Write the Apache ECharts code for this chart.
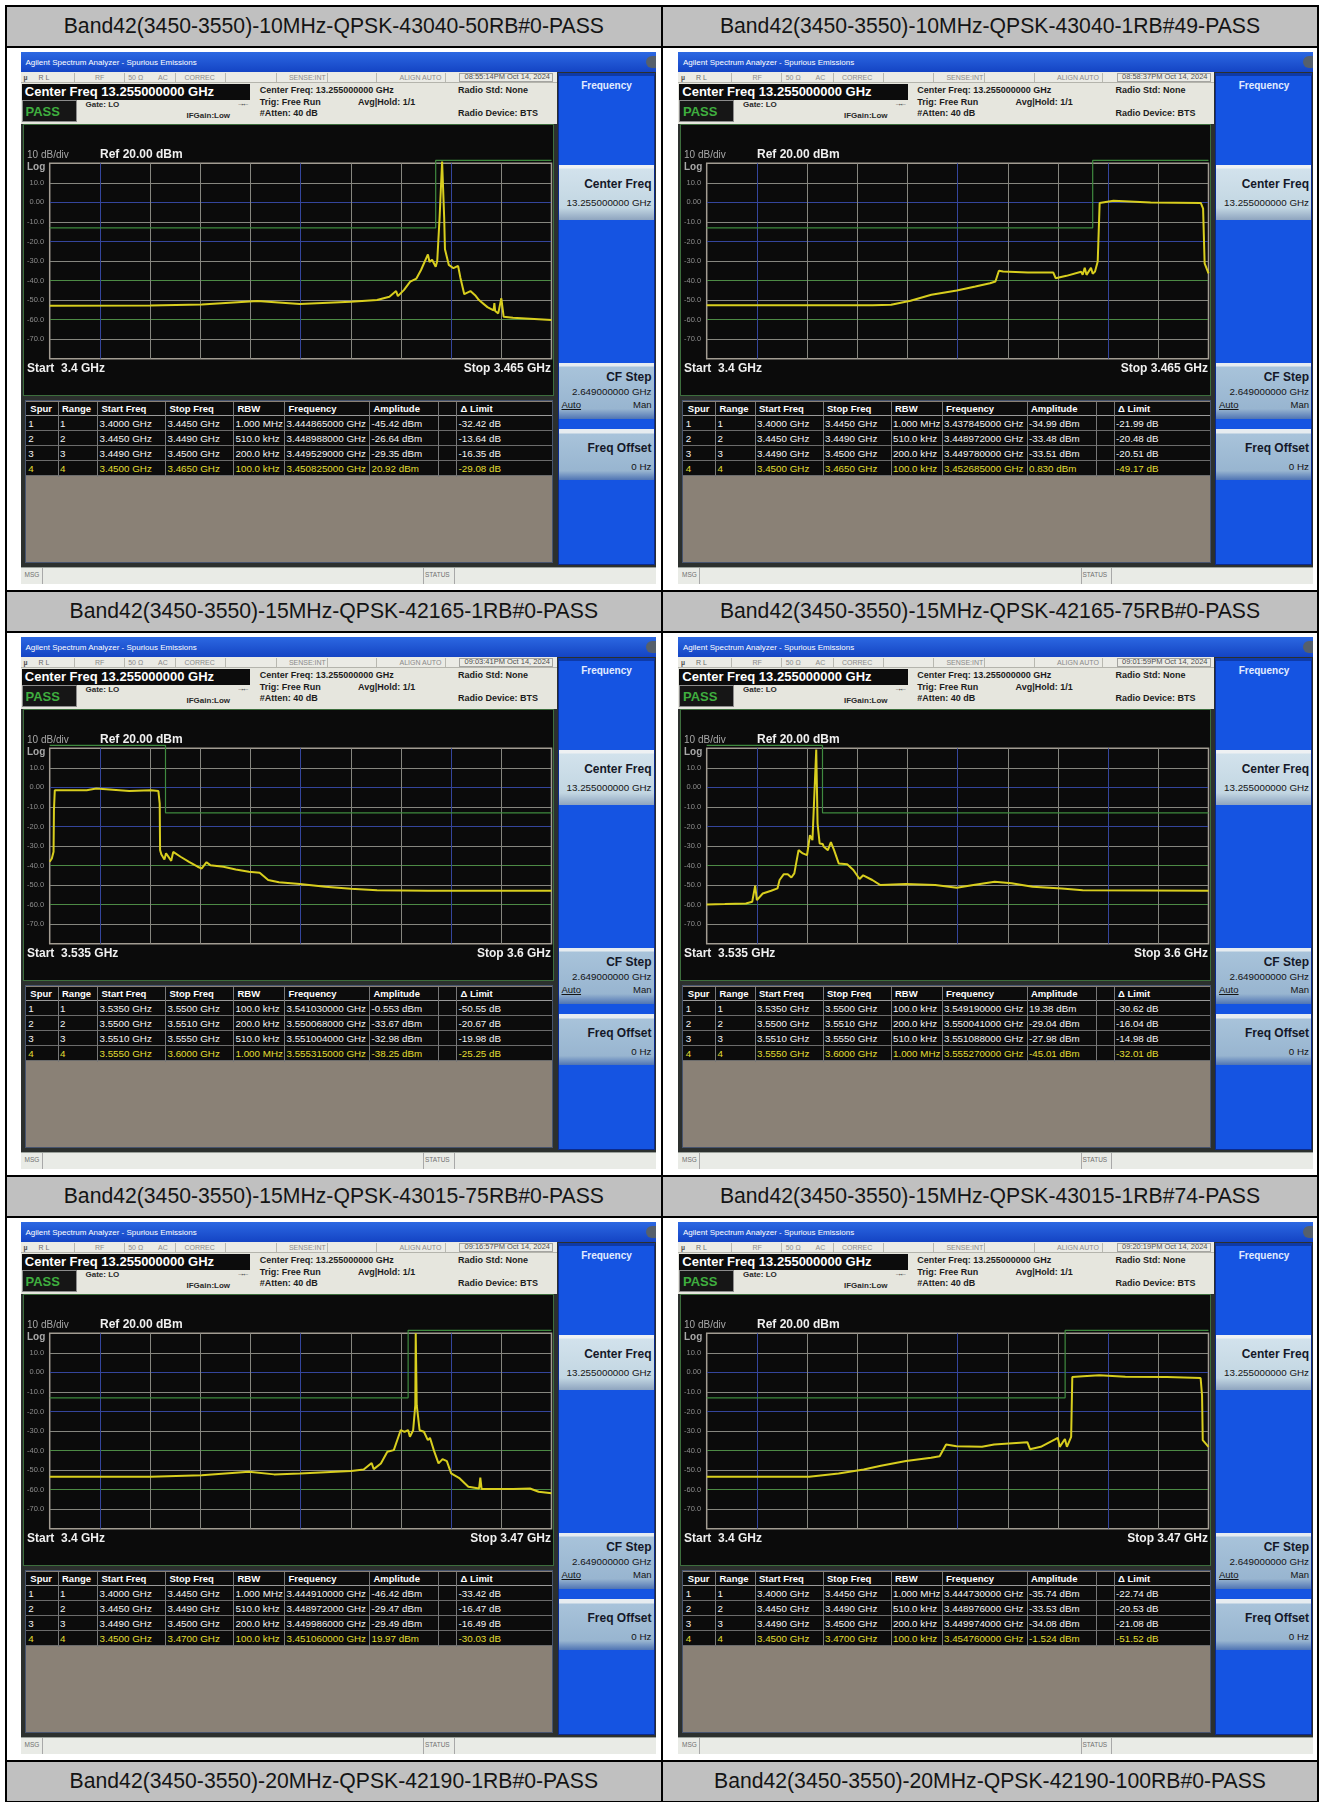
<!DOCTYPE html>
<html>
<head>
<meta charset="utf-8">
<title>Band42 Spurious Emissions</title>
<script src="https://cdn.jsdelivr.net/npm/echarts@6/dist/echarts.min.js"></script>
<style>
  body { margin: 0; width: 1322px; height: 1802px; position: relative; overflow: hidden; background: #fff; font-family: "Liberation Sans", Arial, sans-serif; }
  .a { position: absolute; }
  .t { position: absolute; white-space: nowrap; }
  .shot { position: absolute; width: 635px; height: 532px; background: #2c302e; overflow: hidden; border: 0; }
</style>
</head>
<body>
<div id="page"></div>
<script type="text/javascript">
    // cell titles, row by row (left, right)
    var titles = [
        'Band42(3450-3550)-10MHz-QPSK-43040-50RB#0-PASS',
        'Band42(3450-3550)-10MHz-QPSK-43040-1RB#49-PASS',
        'Band42(3450-3550)-15MHz-QPSK-42165-1RB#0-PASS',
        'Band42(3450-3550)-15MHz-QPSK-42165-75RB#0-PASS',
        'Band42(3450-3550)-15MHz-QPSK-43015-75RB#0-PASS',
        'Band42(3450-3550)-15MHz-QPSK-43015-1RB#74-PASS',
        'Band42(3450-3550)-20MHz-QPSK-42190-1RB#0-PASS',
        'Band42(3450-3550)-20MHz-QPSK-42190-100RB#0-PASS'
    ];
    var timeStamps = ['08:55:14PM Oct 14, 2024', '08:58:37PM Oct 14, 2024', '09:03:41PM Oct 14, 2024',
        '09:01:59PM Oct 14, 2024', '09:16:57PM Oct 14, 2024', '09:20:19PM Oct 14, 2024'];
    var spanStart = [3.4, 3.4, 3.535, 3.535, 3.4, 3.4];     // GHz
    var spanStop = [3.465, 3.465, 3.6, 3.6, 3.47, 3.47];

    // range tables
    var lowRangeStart = ['3.4000', '3.4450', '3.4490', '3.4500'];
    var lowRangeStop65 = ['3.4450', '3.4490', '3.4500', '3.4650'];
    var lowRangeStop70 = ['3.4450', '3.4490', '3.4500', '3.4700'];
    var lowRbw = ['1.000 MHz', '510.0 kHz', '200.0 kHz', '100.0 kHz'];
    var highRangeStart = ['3.5350', '3.5500', '3.5510', '3.5550'];
    var highRangeStop = ['3.5500', '3.5510', '3.5550', '3.6000'];
    var highRbw = ['100.0 kHz', '200.0 kHz', '510.0 kHz', '1.000 MHz'];

    // spur results per screenshot
    var p1SpurFreq = ['3.444865000', '3.448988000', '3.449529000', '3.450825000'];
    var p1SpurAmp = ['-45.42', '-26.64', '-29.35', '20.92'];
    var p1SpurDelta = ['-32.42', '-13.64', '-16.35', '-29.08'];
    var p2SpurFreq = ['3.437845000', '3.448972000', '3.449780000', '3.452685000'];
    var p2SpurAmp = ['-34.99', '-33.48', '-33.51', '0.830'];
    var p2SpurDelta = ['-21.99', '-20.48', '-20.51', '-49.17'];
    var p3SpurFreq = ['3.541030000', '3.550068000', '3.551004000', '3.555315000'];
    var p3SpurAmp = ['-0.553', '-33.67', '-32.98', '-38.25'];
    var p3SpurDelta = ['-50.55', '-20.67', '-19.98', '-25.25'];
    var p4SpurFreq = ['3.549190000', '3.550041000', '3.551088000', '3.555270000'];
    var p4SpurAmp = ['19.38', '-29.04', '-27.98', '-45.01'];
    var p4SpurDelta = ['-30.62', '-16.04', '-14.98', '-32.01'];
    var p5SpurFreq = ['3.444910000', '3.448972000', '3.449986000', '3.451060000'];
    var p5SpurAmp = ['-46.42', '-29.47', '-29.49', '19.97'];
    var p5SpurDelta = ['-33.42', '-16.47', '-16.49', '-30.03'];
    var p6SpurFreq = ['3.444730000', '3.448976000', '3.449974000', '3.454760000'];
    var p6SpurAmp = ['-35.74', '-33.53', '-34.08', '-1.524'];
    var p6SpurDelta = ['-22.74', '-20.53', '-21.08', '-51.52'];

    // traces [GHz, dBm]
    var p1Trace = [[3.4000,-52.9],[3.4130,-52.8],[3.4197,-52.2],[3.4269,-50.5],[3.4324,-52.0],[3.4390,-50.8],[3.4424,-50.0],[3.4440,-48.3],[3.44487,-45.4],[3.4451,-48.0],[3.4459,-44.8],[3.4467,-40.6],[3.4475,-39.0],[3.4481,-34.6],[3.44899,-26.6],[3.4492,-30.5],[3.44953,-29.4],[3.4500,-32.9],[3.4502,-30.0],[3.4505,-8.2],[3.45083,20.9],[3.4511,-8.0],[3.4512,-24.0],[3.4517,-32.0],[3.4523,-33.7],[3.4529,-32.5],[3.4532,-38.6],[3.4537,-47.0],[3.4545,-45.4],[3.4551,-47.5],[3.4556,-50.0],[3.4567,-53.6],[3.4575,-55.3],[3.4576,-51.5],[3.4577,-55.6],[3.4581,-56.8],[3.4585,-49.1],[3.4588,-58.5],[3.4600,-59.0],[3.4650,-60.2]];
    var p2Trace = [[3.4000,-52.7],[3.4215,-52.7],[3.4239,-52.4],[3.4264,-50.3],[3.4291,-47.3],[3.4324,-45.1],[3.4348,-43.1],[3.4367,-41.4],[3.4374,-40.5],[3.43785,-35.0],[3.4384,-35.4],[3.4416,-35.9],[3.4449,-35.9],[3.4452,-38.8],[3.4466,-37.6],[3.4485,-35.5],[3.4487,-37.0],[3.44897,-33.5],[3.4492,-37.1],[3.44978,-33.5],[3.4500,-36.5],[3.4503,-35.4],[3.45065,-30.3],[3.4509,-0.3],[3.45269,0.8],[3.4575,0.0],[3.4640,-0.3],[3.4643,-3.2],[3.4645,-31.2],[3.4650,-36.3]];
    var p3Trace = [[3.5350,-38.1],[3.53528,-36.4],[3.5355,-33.0],[3.53555,-11.7],[3.53566,-1.5],[3.5398,-1.5],[3.54103,-0.6],[3.5453,-1.9],[3.5481,-1.5],[3.54908,-1.9],[3.54925,-8.3],[3.5493,-32.1],[3.54947,-34.4],[3.54986,-36.9],[3.55007,-33.7],[3.55074,-37.6],[3.5510,-33.0],[3.55195,-35.5],[3.55305,-38.1],[3.55416,-40.6],[3.5547,-41.5],[3.55532,-38.3],[3.5558,-39.8],[3.5575,-40.6],[3.5591,-42.0],[3.5608,-43.2],[3.5622,-43.7],[3.5633,-47.4],[3.5647,-48.6],[3.5674,-49.5],[3.5707,-50.9],[3.5740,-51.9],[3.5774,-52.6],[3.5840,-52.9],[3.6000,-52.9]];
    var p4Trace = [[3.5350,-59.9],[3.53735,-59.7],[3.54008,-59.4],[3.5409,-58.5],[3.54128,-50.3],[3.5415,-57.7],[3.54226,-54.3],[3.54335,-52.9],[3.54417,-51.7],[3.54444,-47.4],[3.54499,-44.4],[3.5455,-44.4],[3.54597,-46.1],[3.54635,-44.0],[3.5469,-32.1],[3.54745,-33.8],[3.5480,-34.7],[3.54837,-24.5],[3.5487,-27.0],[3.54919,19.4],[3.54936,-18.5],[3.54963,-28.7],[3.55004,-29.0],[3.55017,-30.4],[3.5507,-32.1],[3.55109,-28.0],[3.5515,-32.1],[3.5521,-38.9],[3.5532,-39.3],[3.5540,-42.3],[3.5548,-46.9],[3.55527,-45.0],[3.55645,-47.4],[3.5575,-50.0],[3.5608,-49.5],[3.5646,-50.0],[3.5674,-51.4],[3.56955,-50.0],[3.5723,-48.3],[3.5745,-49.1],[3.5772,-50.9],[3.5810,-51.7],[3.5837,-52.6],[3.6000,-52.9]];
    var p5Trace = [[3.4000,-53.4],[3.4070,-53.4],[3.4141,-53.4],[3.4212,-52.6],[3.4278,-50.9],[3.4313,-52.2],[3.4349,-51.7],[3.44205,-50.5],[3.4438,-49.7],[3.44491,-46.4],[3.4452,-49.5],[3.4462,-46.6],[3.4471,-40.6],[3.4480,-39.8],[3.44897,-29.5],[3.4495,-30.5],[3.44999,-29.5],[3.45025,-33.0],[3.4507,-29.6],[3.4510,-16.8],[3.45106,20.0],[3.4512,-16.8],[3.4516,-29.6],[3.4522,-30.4],[3.45275,-34.7],[3.45305,-33.5],[3.45365,-40.6],[3.45424,-46.6],[3.4548,-44.4],[3.4554,-45.4],[3.4560,-51.7],[3.4572,-54.3],[3.4584,-58.5],[3.4599,-59.4],[3.46007,-53.9],[3.46025,-59.7],[3.46465,-59.7],[3.4670,-59.4],[3.4682,-61.1],[3.4700,-61.9]];
    var p6Trace = [[3.4000,-53.4],[3.4143,-53.4],[3.4184,-51.7],[3.4219,-49.7],[3.4243,-47.8],[3.4278,-45.4],[3.4313,-43.7],[3.4325,-42.9],[3.4334,-36.9],[3.43485,-37.8],[3.4384,-38.1],[3.4401,-36.9],[3.44473,-35.7],[3.4451,-39.3],[3.4466,-38.1],[3.44898,-33.5],[3.44925,-38.1],[3.44997,-34.1],[3.45025,-38.1],[3.45084,-33.0],[3.4510,-2.4],[3.4525,-2.0],[3.45476,-1.5],[3.4584,-2.2],[3.4642,-2.4],[3.4689,-2.9],[3.4691,-11.7],[3.4692,-34.7],[3.4700,-38.1]];

    var panels = [
        { trace: p1Trace, rStart: lowRangeStart, rStop: lowRangeStop65, rbw: lowRbw, freq: p1SpurFreq, amp: p1SpurAmp, delta: p1SpurDelta },
        { trace: p2Trace, rStart: lowRangeStart, rStop: lowRangeStop65, rbw: lowRbw, freq: p2SpurFreq, amp: p2SpurAmp, delta: p2SpurDelta },
        { trace: p3Trace, rStart: highRangeStart, rStop: highRangeStop, rbw: highRbw, freq: p3SpurFreq, amp: p3SpurAmp, delta: p3SpurDelta },
        { trace: p4Trace, rStart: highRangeStart, rStop: highRangeStop, rbw: highRbw, freq: p4SpurFreq, amp: p4SpurAmp, delta: p4SpurDelta },
        { trace: p5Trace, rStart: lowRangeStart, rStop: lowRangeStop70, rbw: lowRbw, freq: p5SpurFreq, amp: p5SpurAmp, delta: p5SpurDelta },
        { trace: p6Trace, rStart: lowRangeStart, rStop: lowRangeStop70, rbw: lowRbw, freq: p6SpurFreq, amp: p6SpurAmp, delta: p6SpurDelta }
    ];

    // small html helpers
    function tx(x, yc, size, weight, color, text, align, extra) {
        var h = Math.round(size * 1.3);
        var pos;
        if (align === 'right') pos = 'left:' + (x - 400) + 'px;width:400px;text-align:right;';
        else if (align === 'center') pos = 'left:' + (x - 400) + 'px;width:800px;text-align:center;';
        else pos = 'left:' + x + 'px;';
        return '<div class="t" style="' + pos + 'top:' + (yc - h / 2) + 'px;height:' + h + 'px;line-height:' + h +
            'px;font-size:' + size + 'px;font-weight:' + weight + ';color:' + color + ';' + (extra || '') + '">' + text + '</div>';
    }
    function box(x, y, w, h, css) {
        return '<div class="a" style="left:' + x + 'px;top:' + y + 'px;width:' + w + 'px;height:' + h +
            'px;box-sizing:border-box;' + css + '"></div>';
    }

    var colStarts = [5.3, 37, 76.5, 144.5, 212.5, 263.5, 348.5, 417.5, 435.5];
    var headNames = ['Spur', 'Range', 'Start Freq', 'Stop Freq', 'RBW', 'Frequency', 'Amplitude', '', '&Delta; Limit'];

    function shotHtml(p, i) {
        var s = '';
        // window title bar
        s += box(0, 0, 635, 20, 'background:linear-gradient(#2c68e2,#1444c4);');
        s += tx(5, 10.5, 8, 'normal', '#ffffff', 'Agilent Spectrum Analyzer - Spurious Emissions');
        s += box(625, 4, 10, 12, 'background:#56606c;border-radius:6px 0 0 6px;');
        // status row
        s += box(0, 20, 536, 10.5, 'background:#ebebe5;border-bottom:1px solid #b4b4ac;');
        [53, 103.4, 154.7, 204.7, 255, 306.4, 355.5, 424].forEach(function (x) {
            s += box(x, 20.5, 1, 9.5, 'background:#b8b8b0;');
        });
        s += box(438.8, 21, 94, 9, 'border:1px solid #a4a4a0;');
        s += tx(3, 25, 7, 'bold', '#505050', '&micro;');
        s += tx(18, 25, 7, 'normal', '#6a6a6a', 'R L');
        s += tx(74.4, 25, 7, 'normal', '#8a8a8a', 'RF');
        s += tx(107.7, 25, 7, 'normal', '#8a8a8a', '50 &Omega;');
        s += tx(137.6, 25, 7, 'normal', '#8a8a8a', 'AC');
        s += tx(164, 25, 7, 'normal', '#8a8a8a', 'CORREC');
        s += tx(268.4, 25, 7, 'normal', '#8a8a8a', 'SENSE:INT');
        s += tx(379, 25, 7, 'normal', '#8a8a8a', 'ALIGN AUTO');
        s += tx(444, 25, 7.5, 'normal', '#505050', timeStamps[i]);
        // measurement header
        s += box(0, 30.5, 536, 41.5, 'background:#e6e6de;');
        s += box(1, 31.5, 228.5, 16, 'background:#0c0c0c;');
        s += tx(4.3, 39.6, 13, 'bold', '#ffffff', 'Center Freq 13.255000000 GHz');
        s += box(1, 48, 55, 22, 'background:#161616;border:1px solid #8c8c8c;');
        s += tx(5, 59, 13, 'bold', '#3fae3f', 'PASS');
        s += tx(65, 53, 8, 'bold', '#2a2a2a', 'Gate: LO');
        s += tx(166, 64, 8, 'bold', '#2a2a2a', 'IFGain:Low');
        s += tx(216, 52, 8, 'bold', '#2a2a2a', '&rarr;&larr;', null, 'letter-spacing:-3px;');
        s += tx(239.3, 38, 9, 'bold', '#1c1c1c', 'Center Freq: 13.255000000 GHz');
        s += tx(437.5, 38, 9, 'bold', '#1c1c1c', 'Radio Std: None');
        s += tx(239.3, 49.7, 9, 'bold', '#1c1c1c', 'Trig: Free Run');
        s += tx(337.6, 49.7, 9, 'bold', '#1c1c1c', 'Avg|Hold: 1/1');
        s += tx(239.3, 61.3, 9, 'bold', '#1c1c1c', '#Atten: 40 dB');
        s += tx(437.5, 61.3, 9, 'bold', '#1c1c1c', 'Radio Device: BTS');
        // soft key panel
        s += box(537, 20.5, 97, 492, 'background:#1554e2;border:1px solid #0b2a8e;border-top:3px solid #0e3aa8;');
        s += tx(586, 33.5, 10, 'bold', '#e2ecff', 'Frequency', 'center');
        s += box(538, 112.5, 95, 55, 'background:linear-gradient(#eef1f3 0,#eef1f3 3px,#d2e2ec 4px,#c2d6e2 78%,#8ea4bf 100%);');
        s += tx(631, 132, 12, 'bold', '#141828', 'Center Freq', 'right');
        s += tx(631, 150.7, 9.8, 'normal', '#141414', '13.255000000 GHz', 'right');
        s += box(538, 310.5, 95, 56, 'background:linear-gradient(#e6ecf0 0,#e6ecf0 3px,#a8c3da 4px,#98b5d0 82%,#4f74b4 100%);');
        s += tx(631, 325.3, 12, 'bold', '#141828', 'CF Step', 'right');
        s += tx(631, 339.7, 9.8, 'normal', '#141414', '2.649000000 GHz', 'right');
        s += tx(541, 353, 9.5, 'normal', '#141414', 'Auto', null, 'text-decoration:underline;');
        s += tx(631, 353, 9.5, 'normal', '#141414', 'Man', 'right');
        s += box(538, 377, 95, 51, 'background:linear-gradient(#e6ecf0 0,#e6ecf0 4px,#a8c3da 5px,#98b5d0 82%,#4f74b4 100%);');
        s += tx(631, 396.3, 12, 'bold', '#141828', 'Freq Offset', 'right');
        s += tx(631, 414, 9.8, 'normal', '#141414', '0 Hz', 'right');
        // plot window
        s += box(2, 72, 531, 272, 'background:#0b0b0b;border:1px solid #3d6e3d;');
        s += '<div id="plot' + i + '" class="a" style="left:3px;top:73px;width:529px;height:270px;"></div>';
        // spur table
        s += box(4.3, 348, 528.7, 163, 'background:#8a8176;border:1px solid #47546e;');
        s += box(5.3, 349.5, 526.7, 14.2, 'background:#0c0c0c;border-bottom:1px solid #9a9a9a;');
        for (var k = 0; k < 4; k++) {
            s += box(5.3, 363.7 + 15.2 * k, 526.7, 15.2, 'background:#0c0c0c;border-bottom:1px solid #6c6c6c;');
        }
        colStarts.slice(1).forEach(function (c) {
            s += box(c, 349.5, 1, 75, 'background:#777777;');
        });
        headNames.forEach(function (name, c) {
            if (name) s += tx(colStarts[c] + 4.5, 356.6, 9.5, 'bold', '#ffffff', name);
        });
        for (var r = 0; r < 4; r++) {
            var yc = 371.3 + 15.2 * r;
            var col = r === 3 ? '#e2de34' : '#f4f4f4';
            var cells = [String(r + 1), String(r + 1), p.rStart[r] + ' GHz', p.rStop[r] + ' GHz', p.rbw[r],
                p.freq[r] + ' GHz', p.amp[r] + ' dBm', '', p.delta[r] + ' dB'];
            cells.forEach(function (v, c) {
                if (v) s += tx(colStarts[c] + 2.5, yc, 9.8, 'normal', col, v);
            });
        }
        // message bar
        s += box(0, 514.5, 635, 17.5, 'background:#e9ebe6;border-top:1px solid #9aa09a;');
        s += box(21, 515.5, 1, 16, 'background:#a8a8a8;');
        s += box(402.5, 515.5, 1, 16, 'background:#a8a8a8;');
        s += box(433, 515.5, 1, 16, 'background:#a8a8a8;');
        s += tx(4, 523, 6.5, 'normal', '#707070', 'MSG');
        s += tx(404.5, 523, 6.5, 'normal', '#707070', 'STATUS');
        return s;
    }

    // page grid
    var html = '';
    var pitch = 585;
    for (var row = 0; row < 4; row++) {
        var rowTop = 4.5 + pitch * row;
        html += box(4.5, rowTop, 1314.5, 2, 'background:#000;');
        html += box(6.5, rowTop + 2, 654.5, 39.5, 'background:#c0c0c0;');
        html += box(663, rowTop + 2, 654, 39.5, 'background:#c0c0c0;');
        html += tx(333.8, rowTop + 21.8, 21.2, 'normal', '#141414', titles[row * 2], 'center');
        html += tx(990, rowTop + 21.8, 21.2, 'normal', '#141414', titles[row * 2 + 1], 'center');
        html += box(4.5, rowTop + 41.5, 1314.5, 2, 'background:#000;');
    }
    html += box(4.5, 4.5, 2, 1800, 'background:#000;');
    html += box(661, 4.5, 2, 1800, 'background:#000;');
    html += box(1317, 4.5, 2, 1800, 'background:#000;');
    var shotX = [20.5, 678];
    panels.forEach(function (p, i) {
        var x = shotX[i % 2], y = 52 + pitch * Math.floor(i / 2);
        html += '<div class="shot" style="left:' + x + 'px;top:' + y + 'px;">' + shotHtml(p, i) + '</div>';
    });
    document.getElementById('page').innerHTML = html;

    // graticule colours (border, gray, blue, green)
    var gBorder = '#a29c92', gGray = '#86867f', gBlue = '#34459c', gGreen = '#4d8a45';
    var xSplitColors = [gBorder, gBlue, gGray, gGray, gGray, gBlue, gGray, gGray, gBlue, gGray, gBorder];
    var ySplitColors = [gBorder, gGray, gGreen, gGray, gGreen, gGray, gBlue, gGray, gBlue, gGray, gBorder];
    var font = '"Liberation Sans", Arial, sans-serif';

    panels.forEach(function (p, i) {
        var start = spanStart[i], stop = spanStop[i];
        var span = Math.round((stop - start) * 1000);   // MHz
        var traceData = p.trace.map(function (d) { return [(d[0] - start) * 1000, d[1]]; });
        // limit line from the range table (limit = amplitude - delta), drawn just above the top when off screen
        var limitData = [];
        p.rStart.forEach(function (rs, k) {
            var lim = Math.round(parseFloat(p.amp[k]) - parseFloat(p.delta[k]));
            var shown = Math.min(lim, 21.5);
            limitData.push([(parseFloat(rs) - start) * 1000, shown]);
            limitData.push([(parseFloat(p.rStop[k]) - start) * 1000, shown]);
        });

        var chart = echarts.init(document.getElementById('plot' + i));
        var option = {
            animation: false,
            backgroundColor: '#0b0b0b',
            grid: { left: 24.8, right: 1.5, top: 38.3, bottom: 36.3, show: true, borderColor: gBorder, borderWidth: 1.5 },
            xAxis: {
                type: 'value', min: 0, max: span, interval: span / 10,
                axisLine: { show: false }, axisTick: { show: false }, axisLabel: { show: false },
                splitLine: { show: true, lineStyle: { color: xSplitColors, width: 1 } }
            },
            yAxis: {
                type: 'value', min: -80, max: 20, interval: 10,
                axisLine: { show: false }, axisTick: { show: false },
                axisLabel: {
                    color: '#8e8e8e', fontSize: 7.5, fontFamily: font, margin: 5.6,
                    formatter: function (v) {
                        if (v >= 20 || v <= -80) return '';
                        return v === 0 ? '0.00' : v.toFixed(1);
                    }
                },
                splitLine: { show: true, lineStyle: { color: ySplitColors, width: 1 } }
            },
            graphic: [
                { type: 'text', x: 3, y: 30, style: { text: '10 dB/div', fill: '#a8a8a8', font: '10px ' + font, textVerticalAlign: 'middle', verticalAlign: 'middle' } },
                { type: 'text', x: 76, y: 30, style: { text: 'Ref 20.00 dBm', fill: '#f0f0f0', font: 'bold 12px ' + font, textVerticalAlign: 'middle', verticalAlign: 'middle' } },
                { type: 'text', x: 3, y: 42.3, style: { text: 'Log', fill: '#a8a8a8', font: 'bold 10px ' + font, textVerticalAlign: 'middle', verticalAlign: 'middle' } },
                { type: 'text', x: 3, y: 243.7, style: { text: 'Start  ' + start + ' GHz', fill: '#f0f0f0', font: 'bold 12px ' + font, textVerticalAlign: 'middle', verticalAlign: 'middle' } },
                { type: 'text', x: 527, y: 243.7, style: { text: 'Stop ' + stop + ' GHz', fill: '#f0f0f0', font: 'bold 12px ' + font, textAlign: 'right', align: 'right', textVerticalAlign: 'middle', verticalAlign: 'middle' } }
            ],
            series: [
                {
                    name: 'Limit', type: 'line', data: limitData, symbol: 'none', clip: false, silent: true, z: 2,
                    lineStyle: { color: '#3f8a3f', width: 1.2 }
                },
                {
                    name: 'Trace', type: 'line', data: traceData, symbol: 'none', clip: false, silent: true, z: 3,
                    lineStyle: { color: '#d8ce1e', width: 2 }
                }
            ]
        };
        chart.setOption(option);
    });
</script>
</body>
</html>
